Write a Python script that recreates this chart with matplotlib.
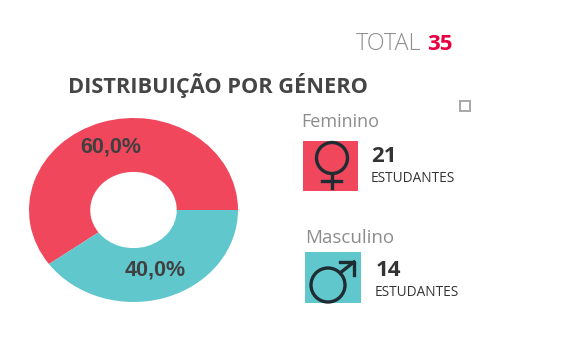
import matplotlib
matplotlib.use('Agg')
from matplotlib import pyplot as plt
from matplotlib.patches import Circle, Rectangle

# dados
generos = ['Feminino', 'Masculino']
estudantes = [21, 14]
percentagens = ['60,0%', '40,0%']
cores = ['#f0475c', '#60c8cd']
total = 35
titulo = 'DISTRIBUIÇÃO POR GÉNERO'

plt.rcParams['font.family'] = ['Open Sans', 'DejaVu Sans']
W, H = 570, 360
escuro = '#1f2d33'

fig = plt.figure(figsize=(W / 100, H / 100), dpi=100)

# camada em pixels para textos e icones
ax = fig.add_axes([0, 0, 1, 1])
ax.set_xlim(0, W)
ax.set_ylim(H, 0)
ax.axis('off')
ax.set_zorder(3)

# donut, um pouco achatado como no original
cx, cy, rx, ry = 133.5, 210, 104.5, 92
pie_ax = fig.add_axes([(cx - rx) / W, 1 - (cy + ry) / H, 2 * rx / W, 2 * ry / H])
pie_ax.pie(estudantes, colors=cores, startangle=0, counterclock=True, radius=1,
           wedgeprops=dict(width=0.586))
pie_ax.set_aspect('auto')
pie_ax.set_xlim(-1, 1)
pie_ax.set_ylim(-1, 1)

ax.text(110.5, 147.5, percentagens[0], fontsize=15.5, fontweight='bold', color='#404040',
        ha='center', va='center', family='Liberation Sans')
ax.text(155.5, 270, percentagens[1], fontsize=15.5, fontweight='bold', color='#404040',
        ha='center', va='center', family='Liberation Sans')

ax.text(356, 44, 'TOTAL', fontsize=16.8, fontweight='light', color='#8f8f8f', ha='left', va='center')
ax.text(427, 44, str(total), fontsize=16, fontweight='bold', color='#e8003f', ha='left', va='center')
ax.text(68, 85, titulo, fontsize=15.7, fontweight='bold', color='#454545', ha='left', va='center')

ax.add_patch(Rectangle((459.5, 101), 10, 9.5, fill=False, ec='#a8a8a8', lw=1.4))

# feminino
ax.text(301, 122, generos[0], fontsize=13, color='#8c8c8c', ha='left', va='center')
ax.add_patch(Rectangle((303, 141), 55, 50, color=cores[0], lw=0))
ax.add_patch(Circle((332, 158), 15.5, fill=False, ec=escuro, lw=2.4))
ax.plot([332, 332], [173.5, 188], color=escuro, lw=2.4)
ax.plot([322, 341], [181, 181], color=escuro, lw=2.4)
ax.text(371, 156, str(estudantes[0]), fontsize=16, fontweight='bold', color='#333333', ha='left', va='center')
ax.text(371, 178, 'ESTUDANTES', fontsize=9.8, color='#333333', ha='left', va='center')

# masculino
ax.text(305, 238, generos[1], fontsize=13.5, color='#8c8c8c', ha='left', va='center')
ax.add_patch(Rectangle((305, 252), 56, 51, color=cores[1], lw=0))
ax.add_patch(Circle((328, 285), 17, fill=False, ec=escuro, lw=2.4))
ax.plot([340, 354], [273, 262], color=escuro, lw=2.4)
ax.plot([340, 354, 354], [262, 262, 275], color=escuro, lw=2.4)
ax.text(376, 271, str(estudantes[1]), fontsize=16, fontweight='bold', color='#333333', ha='left', va='center')
ax.text(375, 293, 'ESTUDANTES', fontsize=9.8, color='#333333', ha='left', va='center')

fig.savefig('out.png', dpi=100)
